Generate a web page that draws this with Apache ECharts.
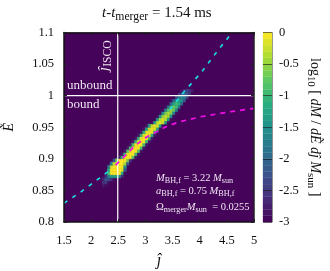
<!DOCTYPE html>
<html><head><meta charset="utf-8">
<style>html,body{margin:0;padding:0;background:#fff}#c{width:330px;height:271px}</style>
<script src="https://cdn.jsdelivr.net/npm/echarts@6/dist/echarts.min.js"></script>
</head><body><div id="c"></div>
<script>
const xTicks = [1.5, 5];
const yTicks = [0.8, 1.1];
const cellJ = 0.05, cellE = 0.005;
const rowE = [.855,.860,.865,.870,.875,.880,.885,.890,.895,.900,.905,.910,.915,.920,.925,.930,.935,.940,.945,.950,.955,.960,.965,.970,.975,.980,.985,.990,.995,1.000,1.005];
const rowStart = [14,14,14,15,16,16,16,17,18,20,21,22,23,24,25,26,27,28,29,30,32,33,34,35,36,37,38,39,40,41,42];
const rowValues = [
[-2.8,-2.9],
[-2.6,-2.5,-2.9],
[-2.7,-2.2,-2.3,-2.6,-2.9],
[-2.6,-1.7,-1.4,-1.3,-1.3,-1.6,-2.7],
[-0.9,-0.05,0,0,0,-1.2,-2.9],
[-1.2,-0.03,0,0,0,-0.2,-2.2],
[-1.9,-0.2,0,0,0,-0.05,-1.5],
[-1.7,-0.3,0,0,0,-0.4,-2.2],
[-2.3,-0.7,-0.03,0,-0.02,-0.6,-2.6],
[-2.7,-0.9,-0.08,0,-0.02,-0.8,-2.8],
[-2.8,-0.9,-0.08,0,-0.03,-0.9,-2.8],
[-2.8,-0.8,-0.05,0,-0.03,-0.8,-2.8],
[-2.8,-0.9,-0.08,0,-0.03,-0.9,-2.8],
[-2.8,-0.9,-0.08,0,-0.05,-0.9,-2.8],
[-2.8,-1.0,-0.1,0,-0.05,-1.0,-2.8],
[-2.8,-1.0,-0.1,-0.02,-0.08,-1.0,-2.8],
[-2.8,-1.0,-0.12,-0.03,-0.1,-1.1,-2.8],
[-2.8,-1.1,-0.15,-0.04,-0.12,-1.1,-2.8],
[-2.8,-1.2,-0.2,-0.06,-0.15,-1.2,-2.9],
[-2.8,-1.3,-0.25,-0.1,-0.2,-1.3,-2.9],
[-2.9,-1.3,-0.3,-0.13,-0.25,-1.4,-2.9],
[-2.9,-1.4,-0.4,-0.18,-0.35,-1.4,-2.9],
[-2.9,-1.5,-0.5,-0.25,-0.45,-1.5,-2.9],
[-2.9,-1.6,-0.65,-0.35,-0.6,-1.6,-2.9],
[-2.9,-1.7,-0.8,-0.5,-0.75,-1.7,-2.9],
[-2.9,-1.8,-0.95,-0.7,-0.95,-1.9,-3],
[-2.9,-2.0,-1.2,-0.95,-1.2,-2.0,-3],
[-2.9,-2.1,-1.5,-1.3,-1.5,-2.2,-3],
[-3,-2.3,-1.8,-1.6,-1.8,-2.4,-3],
[-3,-2.5,-2.1,-2.0,-2.2,-2.6,-3],
[-3,-2.8,-2.5,-2.4,-2.6,-2.8,-3]
];
const cyanLowJ = [1.5,1.8,2.16,2.36];
const cyanLowE = [.83,.847,.87,.883];
const cyanHighJ = [3.45,3.73,4.04,4.32,4.6];
const cyanHighE = [.978,1.008,1.038,1.07,1.1];
const magentaJ = [2.45,2.65,2.81,3.03,3.36,3.6,4.04,4.52,5];
const magentaE = [.89,.907,.921,.935,.95,.958,.967,.974,.98];
const jIsco = 2.49;
const boundE = 1;
const barLevels = [-3,-2.9,-2.8,-2.7,-2.6,-2.5,-2.4,-2.3,-2.2,-2.1,-2,-1.9,-1.8,-1.7,-1.6,-1.5,-1.4,-1.3,-1.2,-1.1,-1,-.9,-.8,-.7,-.6,-.5,-.4,-.3,-.2,-.1];
const palette = ['#440154','#472d7b','#3b528b','#2c728e','#21918c','#28ae80','#5ec962','#addc30','#fde725'];

function mix(v){
  const t = Math.max(0, Math.min(1, (v + 3) / 3)) * (palette.length - 1);
  const i = Math.min(palette.length - 2, Math.floor(t)), f = t - i;
  const h = s => [1,3,5].map(k => parseInt(s.substr(k,2),16));
  const a = h(palette[i]), b = h(palette[i+1]);
  return 'rgb(' + a.map((x,k) => Math.round(x + (b[k]-x)*f)).join(',') + ')';
}
const cells = [];
rowE.forEach((e, k) => {
  rowValues[k].forEach((v, n) => { cells.push([1.5 + (rowStart[k] + n) * cellJ, e, v]); });
});

const FONT = '"Liberation Serif"';
function rtext(x, y, text, color, size, rot){
  const sub = size * 0.78;
  const r = {
    i:{fontFamily:FONT,fontSize:size,fontStyle:'italic',fill:color},
    s:{fontFamily:FONT,fontSize:sub,fill:color,padding:[size*0.55,0,0,0]}
  };
  return {type:'text', x, y, rotation: rot || 0, z:20, silent:true,
    style:{text, rich:r, fill:color, fontFamily:FONT, fontSize:size, align:'left', verticalAlign:'middle'}};
}
const LIGHT = '#efe6f2';
const chart = echarts.init(document.getElementById('c'), null, {renderer:'canvas'});
const axisText = {fontFamily:FONT, fontSize:12.5, color:'#111'};
const lineOpts = {type:'line',xAxisIndex:0,yAxisIndex:0,showSymbol:false,silent:true};
chart.setOption({
  animation:false,
  grid:[
    {left:64, top:32.5, width:190, height:189.5, show:true, backgroundColor:'#46035a', borderWidth:0, outerBoundsMode:'none'},
    {left:263, top:32.5, width:9, height:189.5, outerBoundsMode:'none'}
  ],
  xAxis:[
    {gridIndex:0,type:'value',min:xTicks[0],max:xTicks[1],interval:.5,z:6,
     axisLine:{show:true,onZero:false,lineStyle:{color:'#111',width:1.5}},
     axisTick:{inside:true,length:3,lineStyle:{color:'#222',width:1}},
     axisLabel:Object.assign({margin:12,showMinLabel:true,showMaxLabel:true},axisText),splitLine:{show:false},
     name:'ĵ',nameLocation:'middle',nameGap:31,nameTextStyle:{fontFamily:FONT,fontSize:16,fontStyle:'italic',color:'#111'}},
    {gridIndex:0,type:'value',position:'top',min:xTicks[0],max:xTicks[1],interval:.5,z:6,
     axisLine:{show:true,onZero:false,lineStyle:{color:'#111',width:1.5}},
     axisTick:{inside:true,length:3,lineStyle:{color:'#222',width:1}},axisLabel:{show:false},splitLine:{show:false}},
    {gridIndex:1,type:'value',min:0,max:1,show:false}
  ],
  yAxis:[
    {gridIndex:0,type:'value',min:yTicks[0],max:yTicks[1],interval:.05,z:6,
     axisLine:{show:true,onZero:false,lineStyle:{color:'#111',width:1.5}},
     axisTick:{inside:true,length:3,lineStyle:{color:'#222',width:1}},
     axisLabel:Object.assign({margin:10,showMinLabel:true,showMaxLabel:true},axisText),splitLine:{show:false},
     name:'Ẽ',nameLocation:'middle',nameGap:48,nameRotate:90,nameTextStyle:{fontFamily:FONT,fontSize:14,fontStyle:'italic',color:'#111'}},
    {gridIndex:0,type:'value',position:'right',min:yTicks[0],max:yTicks[1],interval:.05,z:6,
     axisLine:{show:true,onZero:false,lineStyle:{color:'#222',width:1.5}},
     axisTick:{inside:true,length:3,lineStyle:{color:'#222',width:1}},axisLabel:{show:false},splitLine:{show:false}},
    {gridIndex:1,type:'value',position:'right',min:-3,max:0,interval:.5,z:6,
     axisLine:{show:true,onZero:false,lineStyle:{color:'#555',width:.6}},
     axisTick:{inside:true,length:9,lineStyle:{color:'rgba(0,0,0,.55)',width:1}},
     axisLabel:Object.assign({margin:7,showMinLabel:true,showMaxLabel:true},axisText),splitLine:{show:false}}
  ],
  series:[
    {type:'custom',xAxisIndex:0,yAxisIndex:0,data:cells,z:1,clip:true,encode:{x:0,y:1},
     renderItem(p,api){
       const j=api.value(0),e=api.value(1),v=api.value(2);
       const a=api.coord([j,e+cellE]),b=api.coord([j+cellJ,e]);
       return {type:'rect',shape:{x:a[0],y:a[1],width:b[0]-a[0],height:b[1]-a[1]},
         style:{fill:mix(v),stroke:mix(v),lineWidth:.5}};
     }},
    Object.assign({},lineOpts,{data:[[jIsco,yTicks[0]],[jIsco,yTicks[1]]],z:3,lineStyle:{color:'#fff',width:1.2}}),
    Object.assign({},lineOpts,{data:[[xTicks[0],boundE],[xTicks[1],boundE]],z:3,lineStyle:{color:'#fff',width:1.2}}),
    Object.assign({},lineOpts,{data:cyanLowJ.map((x,i)=>[x,cyanLowE[i]]),z:4,lineStyle:{color:'#19e3e8',width:1.6,type:[4,6]}}),
    Object.assign({},lineOpts,{data:cyanHighJ.map((x,i)=>[x,cyanHighE[i]]),z:4,lineStyle:{color:'#19e3e8',width:1.6,type:[4,6]}}),
    Object.assign({},lineOpts,{data:magentaJ.map((x,i)=>[x,magentaE[i]]),z:5,lineStyle:{color:'#f00fe6',width:1.7,type:[5,5]}}),
    {type:'custom',xAxisIndex:2,yAxisIndex:2,data:barLevels.map(v=>[0,v]),z:1,encode:{x:0,y:1},
     renderItem(p,api){
       const v=api.value(1);
       const a=api.coord([0,v+.1]),b=api.coord([1,v]);
       return {type:'rect',shape:{x:a[0],y:a[1],width:b[0]-a[0],height:b[1]-a[1]},
         style:{fill:mix(v+.05),stroke:mix(v+.05),lineWidth:.3}};
     }}
  ],
  graphic:[
    rtext(102,13,'{i|t}-{i|t}{s|merger} = 1.54 ms','#111',15),
    rtext(67,86,'unbound',LIGHT,13),
    rtext(67,105,'bound',LIGHT,13),
    rtext(104,71,'{i|ĵ}{s|ISCO}',LIGHT,15,Math.PI/2),
    rtext(156,178,'{i|M}{s|BH,f} = 3.22 {i|M}{s|sun}',LIGHT,10.5),
    rtext(156,191,'{i|a}{s|BH,f} = 0.75 {i|M}{s|BH,f}',LIGHT,10.5),
    rtext(156,207,'Ω{s|merger}{i|M}{s|sun}  = 0.0255',LIGHT,10.5),
    rtext(315,58,'log{s|10} [ {i|dM} / {i|dẼ} {i|dĵ} {i|M}{s|sun} ]','#111',14,-Math.PI/2)
  ]
});
</script></body></html>
